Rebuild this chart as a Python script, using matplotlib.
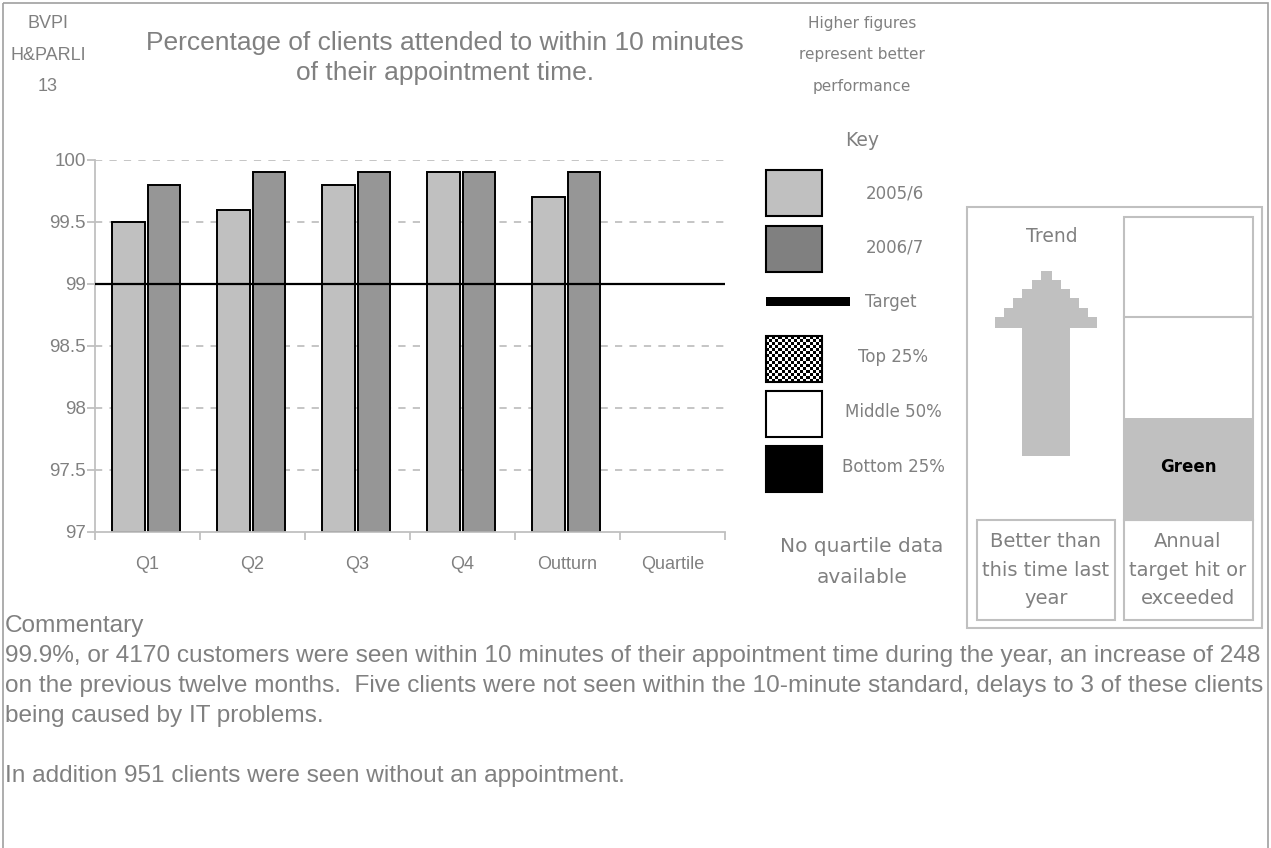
import numpy as np
import matplotlib.pyplot as plt
from matplotlib.patches import Rectangle

# data
categories = ["Q1", "Q2", "Q3", "Q4", "Outturn", "Quartile"]
values_2005 = [99.5, 99.6, 99.8, 99.9, 99.7, np.nan]
values_2006 = [99.8, 99.9, 99.9, 99.9, 99.9, np.nan]
target = 99.0
y_ticks = [97, 97.5, 98, 98.5, 99, 99.5, 100]
y_tick_labels = ["97", "97.5", "98", "98.5", "99", "99.5", "100"]

key_labels = ["2005/6", "2006/7", "Target", "Top 25%", "Middle 50%", "Bottom 25%"]
commentary = [
    "Commentary",
    "99.9%, or 4170 customers were seen within 10 minutes of their appointment time during the year, an increase of 248",
    "on the previous twelve months.  Five clients were not seen within the 10-minute standard, delays to 3 of these clients",
    "being caused by IT problems.",
    "",
    "In addition 951 clients were seen without an appointment.",
]

GREY_TXT = "#808080"
LIGHT = "#C0C0C0"
DARK = "#969696"
MAIN_FONT = "Liberation Sans"
KEY_FONT = "DejaVu Sans"

W, H = 1271, 848
fig = plt.figure(figsize=(W / 100, H / 100), dpi=100)
fig.patch.set_facecolor("white")

# full-figure layer in pixel units for the report furniture
deco = fig.add_axes([0, 0, 1, 1])
deco.set_xlim(0, W)
deco.set_ylim(H, 0)
deco.axis("off")

# outer frame
deco.add_patch(Rectangle((3, 3), W - 6, H + 10, fill=False, edgecolor="#A0A0A0", lw=1.2))

# header texts
deco.text(48, 55, "BVPI\nH&PARLI\n13", ha="center", va="center", fontsize=13,
          color=GREY_TXT, family=MAIN_FONT, linespacing=2.1)
deco.text(445, 58, "Percentage of clients attended to within 10 minutes\nof their appointment time.",
          ha="center", va="center", fontsize=19, color=GREY_TXT, family=MAIN_FONT, linespacing=1.3)
deco.text(862, 55, "Higher figures\nrepresent better\nperformance", ha="center", va="center",
          fontsize=11, color=GREY_TXT, family=KEY_FONT, linespacing=2.35)
deco.text(862, 140, "Key", ha="center", va="center", fontsize=13.5, color=GREY_TXT, family=KEY_FONT)

# key swatches
box_x, box_w, box_h = 766, 56, 46
deco.add_patch(Rectangle((box_x, 170), box_w, box_h, facecolor=LIGHT, edgecolor="black", lw=1.5))
deco.add_patch(Rectangle((box_x, 226), box_w, box_h, facecolor="#808080", edgecolor="black", lw=1.5))
deco.add_patch(Rectangle((box_x, 297), 84, 9, facecolor="black", edgecolor="none"))
checker = (np.indices((15, 18)).sum(axis=0) % 2).astype(float)
deco.imshow(checker, cmap="gray", extent=(box_x, box_x + box_w, 382, 336),
            interpolation="nearest", aspect="auto", zorder=2)
deco.add_patch(Rectangle((box_x, 336), box_w, box_h, fill=False, edgecolor="black", lw=1.5, zorder=3))
deco.add_patch(Rectangle((box_x, 391), box_w, box_h, facecolor="white", edgecolor="black", lw=1.5))
deco.add_patch(Rectangle((box_x, 446), box_w, box_h, facecolor="black", edgecolor="black", lw=1.5))
deco.set_xlim(0, W)
deco.set_ylim(H, 0)

key_pos = [(895, 193), (895, 248), (891, 302), (893, 357), (893, 412), (893, 467)]
for lab, (kx, ky) in zip(key_labels, key_pos):
    deco.text(kx, ky, lab, ha="center", va="center", fontsize=12, color=GREY_TXT, family=KEY_FONT)

deco.text(862, 562, "No quartile data\navailable", ha="center", va="center", fontsize=14.5,
          color=GREY_TXT, family=KEY_FONT, linespacing=1.8)

# trend panel
deco.add_patch(Rectangle((967, 207), 295, 421, fill=False, edgecolor=LIGHT, lw=1.5))
deco.text(1052, 236, "Trend", ha="center", va="center", fontsize=13.5, color=GREY_TXT, family=KEY_FONT)
steps = [(1041, 1052, 271, 280), (1032, 1061, 280, 289), (1022, 1070, 289, 298),
         (1013, 1079, 298, 308), (1004, 1088, 308, 317), (995, 1097, 317, 328),
         (1022, 1070, 328, 456)]
for x0, x1, y0, y1 in steps:
    deco.add_patch(Rectangle((x0, y0), x1 - x0, y1 - y0, facecolor=LIGHT, edgecolor="none"))

deco.add_patch(Rectangle((1124, 418), 129, 102, facecolor=LIGHT, edgecolor="none"))
deco.add_patch(Rectangle((1124, 217), 129, 303, fill=False, edgecolor=LIGHT, lw=1.5))
deco.plot([1124, 1253], [317, 317], color=LIGHT, lw=1.5)
deco.text(1188, 467, "Green", ha="center", va="center", fontsize=12, fontweight="bold",
          color="black", family=KEY_FONT)

deco.add_patch(Rectangle((977, 520), 138, 100, fill=False, edgecolor=LIGHT, lw=1.5))
deco.add_patch(Rectangle((1124, 520), 129, 100, fill=False, edgecolor=LIGHT, lw=1.5))
deco.text(1046, 570, "Better than\nthis time last\nyear", ha="center", va="center", fontsize=14,
          color=GREY_TXT, family=KEY_FONT, linespacing=1.65)
deco.text(1188, 570, "Annual\ntarget hit or\nexceeded", ha="center", va="center", fontsize=14,
          color=GREY_TXT, family=KEY_FONT, linespacing=1.65)

# commentary block
deco.text(5, 615, "\n".join(commentary), ha="left", va="top", fontsize=17.6,
          color=GREY_TXT, family=MAIN_FONT, linespacing=1.47)

# main bar chart
ax = fig.add_axes([95 / W, 1 - 532 / H, 630 / W, 372 / H])
ax.set_facecolor("none")
x = np.arange(len(categories))
bar_w = 0.31
h2005 = np.array(values_2005) - 97
h2006 = np.array(values_2006) - 97
ax.bar(x - 0.18, h2005, bar_w, bottom=97, color=LIGHT, edgecolor="black", lw=1.4, zorder=2)
ax.bar(x + 0.155, h2006, bar_w, bottom=97, color=DARK, edgecolor="black", lw=1.4, zorder=2)
ax.axhline(target, color="black", lw=1.6, zorder=3)

ax.set_xlim(-0.5, len(categories) - 0.5)
ax.set_ylim(97, 100)
ax.set_yticks(y_ticks)
ax.set_yticklabels(y_tick_labels)
for yv in y_ticks[1:]:
    if yv != target:
        ax.axhline(yv, color=LIGHT, lw=1.3, linestyle=(0, (4, 4)), zorder=1)

ax.set_xticks(x)
ax.set_xticklabels(categories)
ax.set_xticks(np.arange(len(categories) + 1) - 0.5, minor=True)
ax.tick_params(axis="x", which="major", length=0, pad=17, labelsize=13, labelcolor=GREY_TXT)
ax.tick_params(axis="x", which="minor", length=6, color=LIGHT, width=1.3)
ax.tick_params(axis="y", length=6, color=LIGHT, width=1.3, labelsize=13.5, labelcolor=GREY_TXT, pad=0.5)
for lab in ax.get_xticklabels() + ax.get_yticklabels():
    lab.set_family(MAIN_FONT)

for side in ["top", "right"]:
    ax.spines[side].set_visible(False)
for side in ["left", "bottom"]:
    ax.spines[side].set_color(LIGHT)
    ax.spines[side].set_linewidth(1.3)

fig.savefig("out.png", dpi=100)
